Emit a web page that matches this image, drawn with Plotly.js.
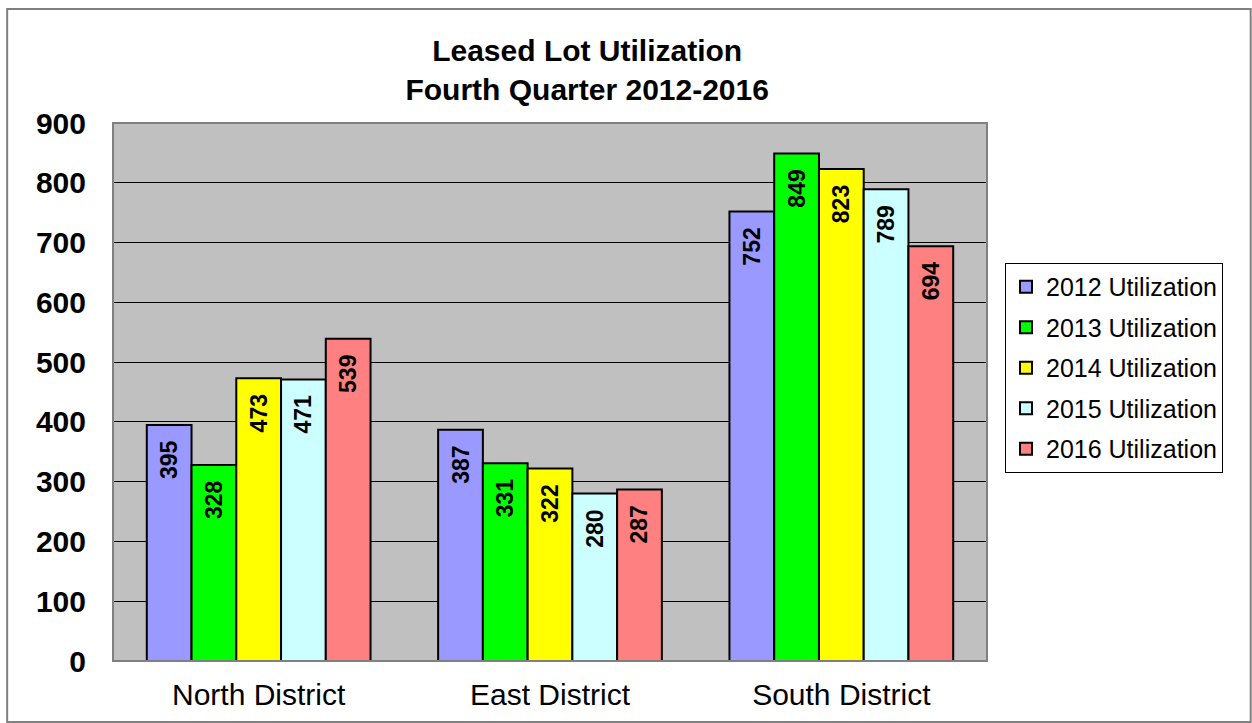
<!DOCTYPE html>
<html><head><meta charset="utf-8">
<script src="https://cdn.plot.ly/plotly-3.0.1.min.js"></script>
<style>html,body{margin:0;padding:0;background:#fff;}#chart{width:1252px;height:723px;}</style>
</head><body><div id="chart"></div>
<script>
const categories = ["North District", "East District", "South District"];
const seriesNames = ["2012 Utilization", "2013 Utilization", "2014 Utilization", "2015 Utilization", "2016 Utilization"];
const v2012 = [395, 387, 752];
const v2013 = [328, 331, 849];
const v2014 = [473, 322, 823];
const v2015 = [471, 280, 789];
const v2016 = [539, 287, 694];
const seriesValues = [v2012, v2013, v2014, v2015, v2016];
const colors = ["#9999FF", "#00FF00", "#FFFF00", "#CCFFFF", "#FF8080"];

const FONT = "Arial, Liberation Sans, sans-serif";
const PAD = "\u00a0\u00a0";
const traces = seriesValues.map((vals, i) => ({
  type: "bar",
  name: seriesNames[i],
  legendgroup: "g" + i,
  x: categories,
  y: vals,
  text: vals.map(v => String(v) + PAD),
  texttemplate: "%{text}",
  textposition: "inside",
  insidetextanchor: "end",
  textangle: -90,
  textfont: {family: FONT, size: 23, color: "#000", weight: "bold"},
  insidetextfont: {family: FONT, size: 23, color: "#000", weight: "bold"},
  marker: {color: colors[i], line: {color: "#000", width: 2}},
  hoverinfo: "none"
}));

const layout = {
  width: 1252, height: 723,
  margin: {l: 113, r: 265, t: 123, b: 62},
  paper_bgcolor: "#fff",
  plot_bgcolor: "#C0C0C0",
  barmode: "group",
  bargap: 0.232,
  bargroupgap: 0,
  showlegend: true,
  title: {
    text: "<b>Leased Lot Utilization<br>Fourth Quarter 2012-2016</b>",
    font: {family: FONT, size: 30, color: "#000"},
    x: 0.469, xanchor: "center", xref: "container",
    y: 0.915, yanchor: "top"
  },
  xaxis: {
    showgrid: false, zeroline: false,
    tickfont: {family: FONT, size: 30, color: "#000"},
    ticks: "", showline: false, ticklabelstandoff: 13
  },
  yaxis: {
    range: [0, 900], dtick: 100, tick0: 0,
    showgrid: true, gridcolor: "#000", gridwidth: 1,
    zeroline: false,
    tickfont: {family: FONT, size: 30, color: "#000", weight: "bold"},
    ticks: "", showline: false, ticklabelstandoff: 26
  },
  legend: {
    x: 1.0206, xanchor: "left", y: 0.740, yanchor: "top",
    bordercolor: "#000", borderwidth: 1, bgcolor: "#fff",
    font: {family: FONT, size: 25, color: "#000"},
    itemwidth: 30, tracegroupgap: 5,
    entrywidth: 190, entrywidthmode: "pixels"
  },
  shapes: [
    {type: "rect", xref: "paper", yref: "paper", x0: 0, x1: 1, y0: 0, y1: 1,
     line: {color: "#808080", width: 2}, layer: "above"},
    {type: "rect", xref: "paper", yref: "paper", x0: -0.1211, x1: 1.3017, y0: -0.1134, y1: 1.2119,
     line: {color: "#808080", width: 2}, fillcolor: "rgba(0,0,0,0)"}
  ]
};

Plotly.newPlot("chart", traces, layout, {displayModeBar: false, staticPlot: true});
</script></body></html>
